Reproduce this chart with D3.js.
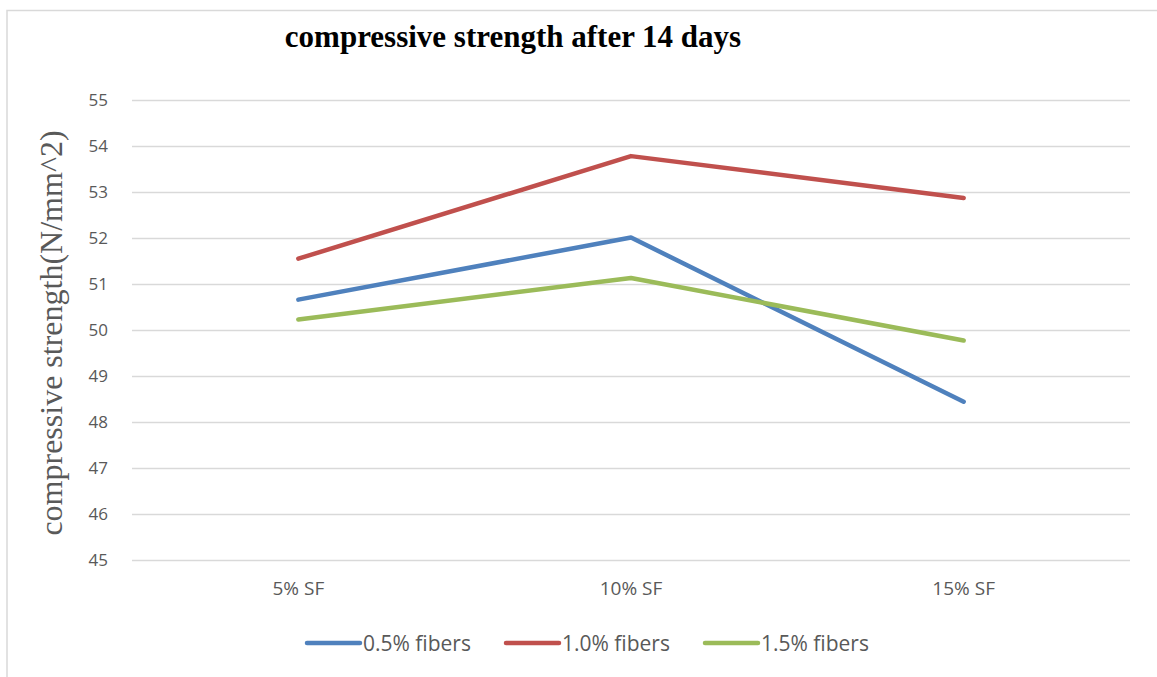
<!DOCTYPE html>
<html>
<head>
<meta charset="utf-8">
<script src="https://cdn.jsdelivr.net/npm/d3@7"></script>
<style>
  html, body { margin: 0; padding: 0; background: #fff; }
  svg { display: block; }
</style>
</head>
<body>
<svg id="chart" width="1157" height="677"></svg>
<script>
// Mix categories (silica fume content)
const categories = ["5% SF", "10% SF", "15% SF"];

// Compressive strength after 14 days, N/mm^2
const fibers05 = [50.66, 52.01, 48.44];
const fibers10 = [51.55, 53.78, 52.87];
const fibers15 = [50.23, 51.13, 49.77];

const seriesNames = ["0.5% fibers", "1.0% fibers", "1.5% fibers"];
const seriesColors = ["#4F81BD", "#C0504D", "#9BBB59"];
const yTicks = [45, 46, 47, 48, 49, 50, 51, 52, 53, 54, 55];

const series = [fibers05, fibers10, fibers15].map((values, i) => ({
  name: seriesNames[i], color: seriesColors[i], values
}));

const svg = d3.select("#chart");
const plot = { left: 132, right: 1130, top: 100, bottom: 560 };
const sansFont = "'Open Sans', 'Liberation Sans', sans-serif";
const serifFont = "'Liberation Serif', 'Times New Roman', serif";

// chart area outline (top and left edges)
svg.append("path")
  .attr("d", "M7,677 V10.5 H1157")
  .attr("fill", "none")
  .attr("stroke", "#d9d9d9")
  .attr("stroke-width", 1.5);

const x = d3.scaleBand().domain(categories).range([plot.left, plot.right]);
const y = d3.scaleLinear().domain([45, 55]).range([plot.bottom, plot.top]);

// horizontal gridlines + value labels
const yAxis = d3.axisLeft(y).tickValues(yTicks).tickSize(-(plot.right - plot.left)).tickPadding(24);
const gy = svg.append("g").attr("transform", `translate(${plot.left},0)`).call(yAxis);
gy.select(".domain").remove();
gy.selectAll(".tick line").attr("stroke", "#d9d9d9").attr("stroke-width", 1.5);
gy.selectAll(".tick text")
  .attr("fill", "#595959")
  .style("font-family", sansFont)
  .style("font-size", "17px");

// category labels
const xAxis = d3.axisBottom(x).tickSize(0).tickPadding(22);
const gx = svg.append("g").attr("transform", `translate(0,${plot.bottom})`).call(xAxis);
gx.select(".domain").remove();
gx.selectAll(".tick text")
  .attr("fill", "#595959")
  .style("font-family", sansFont)
  .style("font-size", "19px");

// series lines
const line = d3.line()
  .x((d, i) => x(categories[i]) + x.bandwidth() / 2)
  .y(d => y(d));

svg.append("g").selectAll("path")
  .data(series)
  .join("path")
  .attr("d", d => line(d.values))
  .attr("fill", "none")
  .attr("stroke", d => d.color)
  .attr("stroke-width", 4.5)
  .attr("stroke-linecap", "round")
  .attr("stroke-linejoin", "round");

// title
svg.append("text")
  .attr("x", 513).attr("y", 47)
  .attr("text-anchor", "middle")
  .style("font-family", serifFont)
  .style("font-weight", "bold")
  .style("font-size", "31px")
  .attr("fill", "#000")
  .text("compressive strength after 14 days");

// y-axis title
svg.append("text")
  .attr("transform", "translate(62,333) rotate(-90)")
  .attr("text-anchor", "middle")
  .style("font-family", serifFont)
  .style("font-size", "32px")
  .attr("fill", "#595959")
  .text("compressive strength(N/mm^2)");

// legend
const legendX = [305, 504, 703];
const lg = svg.append("g").selectAll("g")
  .data(series)
  .join("g")
  .attr("transform", (d, i) => `translate(${legendX[i]},643)`);
lg.append("line")
  .attr("x1", 2).attr("x2", 55)
  .attr("stroke", d => d.color)
  .attr("stroke-width", 4.5)
  .attr("stroke-linecap", "round");
lg.append("text")
  .attr("x", 58).attr("y", 8)
  .attr("fill", "#595959")
  .style("font-family", sansFont)
  .style("font-size", "21px")
  .text(d => d.name);
</script>
</body>
</html>
